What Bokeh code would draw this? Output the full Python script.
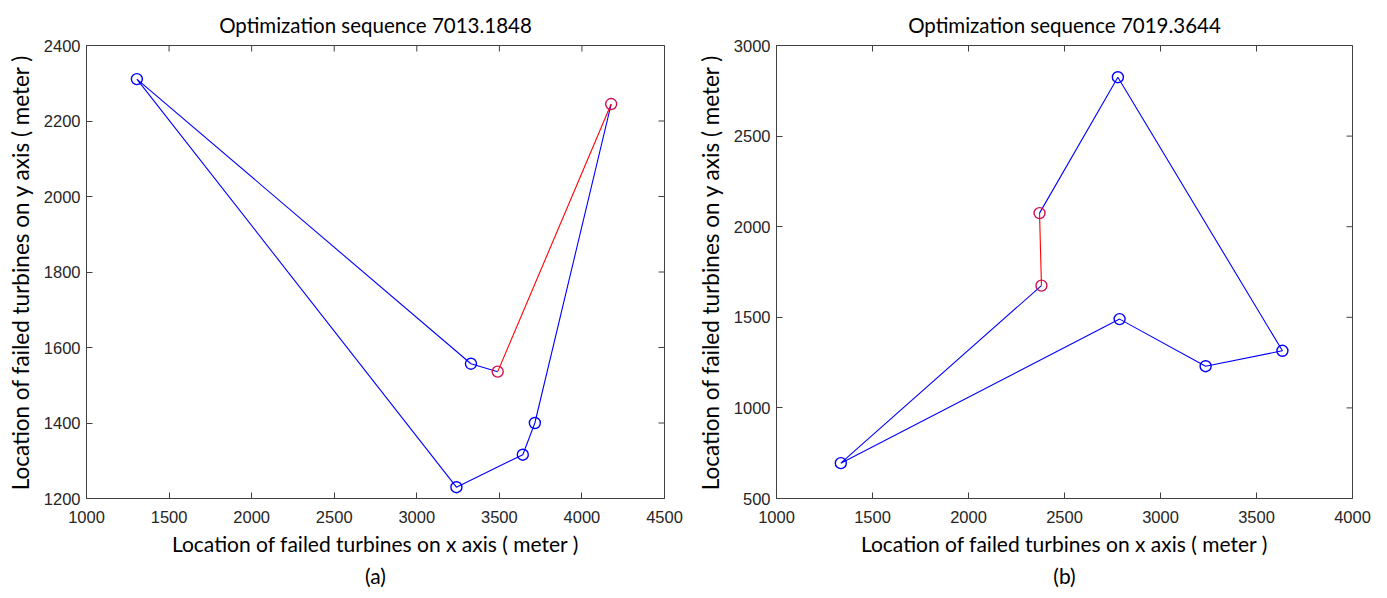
import math
from bokeh.plotting import figure
from bokeh.models import Range1d, FixedTicker, Title
from bokeh.layouts import row
from bokeh.embed import file_html
from bokeh.resources import INLINE

# ---- data ----
# Panel (a): tour points; segment between the first two points is red
a_x = [3490, 4177, 3715, 3642, 3240, 1305, 3328]
a_y = [1536, 2245, 1400, 1316, 1230, 2311, 1557]
a_title = "Optimization sequence 7013.1848"
a_xticks = [1000, 1500, 2000, 2500, 3000, 3500, 4000, 4500]
a_yticks = [1200, 1400, 1600, 1800, 2000, 2200, 2400]

# Panel (b)
b_x = [2370, 2380, 1335, 2787, 3235, 3635, 2778]
b_y = [2075, 1675, 695, 1490, 1230, 1315, 2825]
b_title = "Optimization sequence 7019.3644"
b_xticks = [1000, 1500, 2000, 2500, 3000, 3500, 4000]
b_yticks = [500, 1000, 1500, 2000, 2500, 3000]

x_label = "Location of failed turbines on x axis ( meter )"
y_label = "Location of failed turbines on y axis ( meter )"

LABEL_FONT = "Lato"
TICK_FONT = "Liberation Sans"
AX_COLOR = "#404040"


def panel(xs, ys, title, xticks, yticks, tag, width, bl, br):
    p = figure(width=width, height=598,
               x_range=Range1d(xticks[0], xticks[-1]),
               y_range=Range1d(yticks[0], yticks[-1]),
               output_backend="svg", toolbar_location=None,
               min_border_left=bl, min_border_right=br,
               min_border_top=45, min_border_bottom=100)
    p.title.text = title
    p.title.align = "center"
    p.title.text_font = LABEL_FONT
    p.title.text_font_size = "20.5px"
    p.title.text_font_style = "normal"
    p.title.text_color = "#000000"
    p.title.standoff = 18
    p.grid.visible = False
    p.outline_line_color = AX_COLOR
    p.outline_line_width = 1
    p.background_fill_color = "white"
    p.border_fill_color = "white"

    p.xaxis.ticker = FixedTicker(ticks=xticks)
    p.yaxis.ticker = FixedTicker(ticks=yticks)
    for ax in p.xaxis + p.yaxis:
        ax.major_tick_in = 6
        ax.major_tick_out = 0
        ax.minor_tick_line_color = None
        ax.axis_line_color = AX_COLOR
        ax.major_tick_line_color = AX_COLOR
        ax.major_label_text_font = TICK_FONT
        ax.major_label_text_font_size = "16.5px"
        ax.major_label_text_color = "#262626"
        ax.axis_label_text_font = LABEL_FONT
        ax.axis_label_text_font_style = "normal"
        ax.axis_label_text_color = "#000000"
    p.xaxis.axis_label = x_label
    p.yaxis.axis_label = y_label
    p.xaxis.axis_label_text_font_size = "21px"
    p.yaxis.axis_label_text_font_size = "22.5px"
    p.xaxis.major_label_standoff = 12
    p.yaxis.major_label_standoff = 6
    p.xaxis.axis_label_standoff = 5
    p.yaxis.axis_label_standoff = 7

    # inward ticks on the top and right edges (clipped to the frame)
    x1 = xticks[-1]
    y1 = yticks[-1]
    p.scatter(xticks, [y1] * len(xticks), marker="dash", angle=math.pi / 2,
              size=12, line_color=AX_COLOR, line_width=1)
    p.scatter([x1] * len(yticks), yticks, marker="dash", angle=0,
              size=12, line_color=AX_COLOR, line_width=1)

    # tour: red segment between first two points, blue for the rest (closed)
    blue_x = xs[1:] + xs[:1]
    blue_y = ys[1:] + ys[:1]
    red_x = xs[:2]
    red_y = ys[:2]
    p.line(blue_x, blue_y, line_color="#0000ff", line_width=1.1)
    p.line(red_x, red_y, line_color="#ff0000", line_width=1.1)
    p.scatter(xs[2:], ys[2:], marker="circle", size=11, fill_color=None,
              line_color="#0000ff", line_width=1.4)
    p.scatter(red_x, red_y, marker="circle", size=11, fill_color=None,
              line_color="#d01050", line_width=1.4)

    t = Title(text=tag, align="center", text_font=LABEL_FONT,
              text_font_size="21px", text_font_style="normal",
              text_color="#000000", standoff=4)
    p.add_layout(t, "below")
    return p


p1 = panel(a_x, a_y, a_title, a_xticks, a_yticks, "(a)", 693, 86, 29)
p2 = panel(b_x, b_y, b_title, b_xticks, b_yticks, "(b)", 694, 81, 35)

layout = row(p1, p2, spacing=0)
open("out.html", "w").write(file_html(layout, INLINE))
